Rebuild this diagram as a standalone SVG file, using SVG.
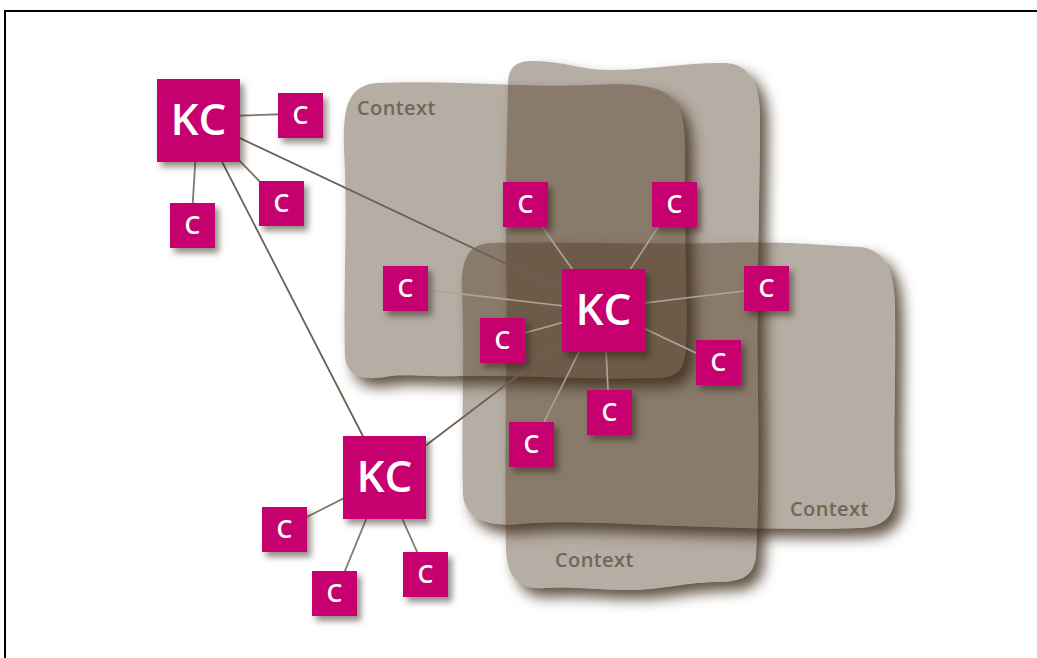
<svg xmlns="http://www.w3.org/2000/svg" width="1037" height="658" viewBox="0 0 1037 658">
  <defs>
    <style>
      .ctx { fill: #402810; filter: url(#ctxShadow); }
      .ctx-label { font-family: "Open Sans", "Liberation Sans", sans-serif; font-size: 20px; font-weight: 600; fill: #746656; letter-spacing: 0.4px; }
      .box { fill: #c6006e; filter: url(#boxShadow); }
      .kc-text { font-family: "Open Sans", "Liberation Sans", sans-serif; font-size: 44px; font-weight: 600; fill: #ffffff; text-anchor: middle; }
      .c-text { font-family: "Open Sans", "Liberation Sans", sans-serif; font-size: 25px; font-weight: 600; fill: #ffffff; text-anchor: middle; }
      .link { stroke: #6f6052; stroke-width: 1.8; fill: none; }
      .leaf { stroke: #85786a; stroke-width: 1.8; fill: none; }
      .spoke { stroke: #b2a596; stroke-width: 1.6; fill: none; }
    </style>
    <!-- translucent fill with a soft shadow kept outside the shape -->
    <filter id="ctxShadow" filterUnits="userSpaceOnUse" x="0" y="0" width="1037" height="658" color-interpolation-filters="sRGB">
      <feGaussianBlur in="SourceAlpha" stdDeviation="7" result="blur"/>
      <feOffset in="blur" dx="8" dy="9" result="off"/>
      <feFlood flood-color="#3a2815" flood-opacity="0.8"/>
      <feComposite in2="off" operator="in" result="shadow"/>
      <feComposite in="shadow" in2="SourceAlpha" operator="out" result="shadowOut"/>
      <feColorMatrix in="SourceGraphic" type="matrix" values="1 0 0 0 0  0 1 0 0 0  0 0 1 0 0  0 0 0 0.38 0" result="fill"/>
      <feMerge>
        <feMergeNode in="shadowOut"/>
        <feMergeNode in="fill"/>
      </feMerge>
    </filter>
    <filter id="boxShadow" x="-30%" y="-30%" width="170%" height="170%" color-interpolation-filters="sRGB">
      <feDropShadow dx="4" dy="5" stdDeviation="3" flood-color="#2b1d10" flood-opacity="0.5"/>
    </filter>
  </defs>

  <rect width="1037" height="658" fill="#ffffff"/>
  <path d="M5,658 V11 H1037" fill="none" stroke="#000000" stroke-width="2"/>

  <!-- context areas -->
  <g id="context-2">
    <path class="ctx" d="M530,61 C560,60 580,70 610,70 C650,70 690,62 725,63 C750,64 760,85 760,115 C760,200 756,300 758,400 C759,470 758,520 756,555 C754,578 740,582 715,582 C680,583 660,590 630,590 C600,590 570,586 545,588 C520,590 507,578 506,550 C504,450 508,350 506,250 C505,180 508,110 508,85 C508,68 515,62 530,61 Z"/>
    <text class="ctx-label" x="555" y="567">Context</text>
  </g>
  <g id="context-3">
    <path class="ctx" d="M490,243 C560,241 640,245 720,243 C790,241 830,246 860,247 C888,250 895,275 895,310 C896,380 893,440 895,490 C896,515 885,527 860,528 C800,530 740,528 680,526 C620,524 560,520 520,524 C490,527 465,520 463,495 C461,430 465,360 462,290 C461,260 468,244 490,243 Z"/>
    <text class="ctx-label" x="790" y="516">Context</text>
  </g>
  <g id="context-1">
    <path class="ctx" d="M378,83 C450,80 520,88 590,85 C630,83 660,84 674,100 C686,114 685,140 685,170 C684,240 688,300 686,345 C685,370 678,378 655,378 C580,380 520,375 460,376 C420,377 400,373 385,377 C360,381 346,375 345,355 C343,290 348,220 344,150 C343,110 346,85 378,83 Z"/>
    <text class="ctx-label" x="357" y="115">Context</text>
  </g>

  <!-- connectors -->
  <g id="connectors">
    <line class="link" x1="225" y1="131" x2="600" y2="308"/>
    <line class="link" x1="216" y1="150" x2="368" y2="446"/>
    <line class="link" x1="400" y1="465" x2="590" y2="321"/>
    <line class="leaf" x1="230" y1="116" x2="290" y2="114"/>
    <line class="leaf" x1="230" y1="151" x2="270" y2="192"/>
    <line class="leaf" x1="196" y1="150" x2="192" y2="215"/>
    <line class="leaf" x1="360" y1="490" x2="295" y2="523"/>
    <line class="leaf" x1="372" y1="505" x2="340" y2="583"/>
    <line class="leaf" x1="396" y1="505" x2="423" y2="565"/>
    <line class="spoke" x1="530" y1="210" x2="585" y2="287"/>
    <line class="spoke" x1="668" y1="212" x2="618" y2="288"/>
    <line class="spoke" x1="410" y1="288" x2="590" y2="309"/>
    <line class="spoke" x1="510" y1="337" x2="590" y2="315"/>
    <line class="spoke" x1="620" y1="306" x2="760" y2="289"/>
    <line class="spoke" x1="620" y1="317" x2="715" y2="362"/>
    <line class="spoke" x1="605" y1="330" x2="609" y2="410"/>
    <line class="spoke" x1="590" y1="330" x2="535" y2="440"/>
  </g>

  <!-- knowledge containers -->
  <g id="kc-1"><rect class="box" x="157" y="79" width="83" height="83"/><text class="kc-text" x="198.5" y="135">KC</text></g>
  <g id="kc-2"><rect class="box" x="562" y="269" width="83" height="83"/><text class="kc-text" x="603.5" y="325">KC</text></g>
  <g id="kc-3"><rect class="box" x="343" y="436" width="83" height="83"/><text class="kc-text" x="384.5" y="492">KC</text></g>

  <!-- content items -->
  <g id="c-1"><rect class="box" x="278" y="93" width="45" height="45"/><text class="c-text" x="300.5" y="124">C</text></g>
  <g id="c-2"><rect class="box" x="259" y="181" width="45" height="45"/><text class="c-text" x="281.5" y="212">C</text></g>
  <g id="c-3"><rect class="box" x="170" y="203" width="45" height="45"/><text class="c-text" x="192.5" y="234">C</text></g>
  <g id="c-4"><rect class="box" x="503" y="182" width="45" height="45"/><text class="c-text" x="525.5" y="213">C</text></g>
  <g id="c-5"><rect class="box" x="652" y="182" width="45" height="45"/><text class="c-text" x="674.5" y="213">C</text></g>
  <g id="c-6"><rect class="box" x="383" y="266" width="45" height="45"/><text class="c-text" x="405.5" y="297">C</text></g>
  <g id="c-7"><rect class="box" x="480" y="318" width="45" height="45"/><text class="c-text" x="502.5" y="349">C</text></g>
  <g id="c-8"><rect class="box" x="744" y="266" width="45" height="45"/><text class="c-text" x="766.5" y="297">C</text></g>
  <g id="c-9"><rect class="box" x="696" y="340" width="45" height="45"/><text class="c-text" x="718.5" y="371">C</text></g>
  <g id="c-10"><rect class="box" x="587" y="390" width="45" height="45"/><text class="c-text" x="609.5" y="421">C</text></g>
  <g id="c-11"><rect class="box" x="509" y="422" width="45" height="45"/><text class="c-text" x="531.5" y="453">C</text></g>
  <g id="c-12"><rect class="box" x="262" y="507" width="45" height="45"/><text class="c-text" x="284.5" y="538">C</text></g>
  <g id="c-13"><rect class="box" x="312" y="571" width="45" height="45"/><text class="c-text" x="334.5" y="602">C</text></g>
  <g id="c-14"><rect class="box" x="403" y="552" width="45" height="45"/><text class="c-text" x="425.5" y="583">C</text></g>
</svg>
